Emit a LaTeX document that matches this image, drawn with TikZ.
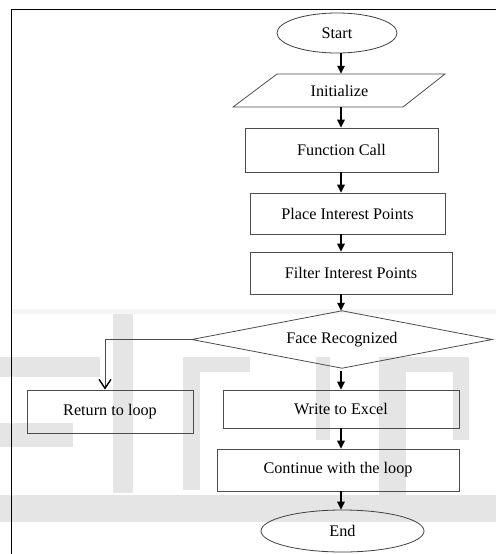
\documentclass[tikz,border=0pt]{standalone}
\usepackage{fontspec}
\setmainfont{Liberation Serif}
\usetikzlibrary{arrows.meta,shapes.geometric}
\tikzset{
  boxst/.style={draw=black!70, line width=0.8pt, rectangle, inner sep=0pt, font=\fontsize{16.2}{19}\selectfont},
  ellst/.style={draw=black!75, line width=0.8pt, ellipse, inner sep=0pt, font=\fontsize{16.2}{19}\selectfont},
  bare/.style={rectangle, inner sep=0pt, font=\fontsize{16.2}{19}\selectfont},
  arr/.style={line width=1.5pt, -{Triangle[length=8pt,width=7.5pt]}},
  barb/.style={line width=0.8pt, draw=black!70, -{Straight Barb[length=9pt,width=12pt,line width=1.4pt,color=black]}},
  wm/.style={fill=black!10, draw=none},
  wmf/.style={fill=black!4, draw=none}
}
\begin{document}
\begin{tikzpicture}[x=1pt,y=-1pt]
\useasboundingbox (0,0) rectangle (496,554);
% watermark
\fill[wmf] (12,309) rectangle (496,314);
\fill[wm] (113,314) rectangle (133,493);
\fill[wm] (0,357) rectangle (100,377);
\fill[wm] (0,423) rectangle (73,447);
\fill[wm] (0,495) rectangle (496,522);
\fill[wm] (183,357) rectangle (200,490);
\fill[wm] (183,357) rectangle (250,372);
\fill[wm] (316,357) rectangle (330,440);
\fill[wm] (379,357) rectangle (406,500);
\fill[wm] (379,357) rectangle (465,372);
\fill[wm] (453,357) rectangle (469,440);
% frame
\draw[line width=1.6pt] (11.5,554) -- (11.5,9.5) -- (496,9.5);
% column coordinates
\coordinate (col) at (341,0);
\coordinate (lcol) at (105,0);
% nodes
\node[ellst, minimum width=120pt, minimum height=40pt] (start) at (337,33) {Start};
\node[bare, minimum width=170pt, minimum height=33pt] (init) at (339.5,90.5) {Initialize};
\draw[black!70, line width=0.8pt] (277,74) -- (445,74) -- (403,107) -- (233,107) -- cycle;
\node[boxst, minimum width=193pt, minimum height=44pt] (func) at (341.5,150) {Function Call};
\node[boxst, minimum width=195pt, minimum height=41pt] (place) at (347.5,213.5) {Place Interest Points};
\node[boxst, minimum width=202pt, minimum height=42pt] (filter) at (351,273) {Filter Interest Points};
\node[bare, minimum width=300pt, minimum height=57pt] (dec) at (342,339.5) {Face Recognized};
\draw[black!70, line width=0.8pt] (dec.north) -- (dec.east) -- (dec.south) -- (dec.west) -- cycle;
\node[boxst, minimum width=166pt, minimum height=43pt] (ret) at (110,411.5) {Return to loop};
\node[boxst, minimum width=236pt, minimum height=38pt] (write) at (341,409) {Write to Excel};
\node[boxst, minimum width=242pt, minimum height=42pt] (cont) at (338,470) {Continue with the loop};
\node[ellst, minimum width=163pt, minimum height=42pt] (end) at (342.5,531) {End};
% connectors
\draw[arr] (start.south -| col) -- (init.north -| col);
\draw[arr] (init.south -| col) -- (func.north -| col);
\draw[arr] (func.south -| col) -- (place.north -| col);
\draw[arr] (place.south -| col) -- (filter.north -| col);
\draw[arr] (filter.south -| col) -- (dec.north -| col);
\draw[arr, shorten <=3pt] (dec.south -| col) -- (write.north -| col);
\draw[arr] (write.south -| col) -- (cont.north -| col);
\draw[arr] (cont.south -| col) -- (end.north -| col);
\draw[barb] (dec.west) -| (lcol |- ret.north);
\end{tikzpicture}
\end{document}
